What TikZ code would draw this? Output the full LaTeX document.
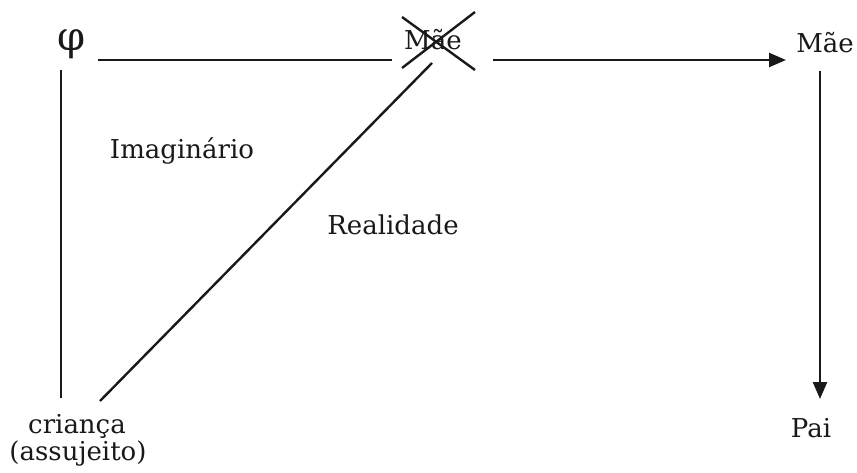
\documentclass[tikz,border=0pt]{standalone}
\usepackage{fontspec}
\setmainfont{DejaVu Serif}
\usetikzlibrary{arrows.meta}
\begin{document}
\begin{tikzpicture}[x=1pt,y=-1pt,
  lbl/.style={inner sep=0pt,font=\fontsize{26}{28}\selectfont,text=black!90},
  ln/.style={line width=2.4pt,black!90},
  arr/.style={ln,-{Triangle[length=17pt,width=14pt]}}]
\useasboundingbox (0,0) rectangle (857,473);
% texts
\node[inner sep=0pt,font=\fontsize{40}{42}\selectfont,text=black!90] (phi) at (72,44) {φ};
\node[lbl,anchor=base] (mae1) at (433,50) {Mãe};
\node[lbl,anchor=base] (mae2) at (825,53) {Mãe};
\node[lbl,anchor=base] (pai) at (811,437) {Pai};
\node[lbl,anchor=base] (crianca) at (77,433) {criança};
\node[lbl,anchor=base] (assuj) at (78,460) {(assujeito)};
\node[lbl,anchor=base] (imag) at (182,159) {Imaginário};
\node[lbl,anchor=base] (real) at (393,235) {Realidade};
% connector end points
\coordinate (phiR) at (98,60);
\coordinate (maeL) at (392,60);
\coordinate (maeR) at (493,60);
\coordinate (mae2L) at (786,60);
\coordinate (phiB) at (61,70);
\coordinate (criT) at (61,398);
\coordinate (criR) at (100,401);
\coordinate (maeB) at (432,63);
\coordinate (mae2B) at (820,71);
\coordinate (paiT) at (820,399);
\coordinate (x1a) at (402,17);
\coordinate (x1b) at (475,70);
\coordinate (x2a) at (475,12);
\coordinate (x2b) at (402,68);
% connectors
\draw[ln] (phiR) -- (maeL);
\draw[arr] (maeR) -- (mae2L);
\draw[ln] (phiB) -- (criT);
\draw[ln] (criR) -- (maeB);
\draw[arr] (mae2B) -- (paiT);
% cross over Mãe
\draw[ln] (x1a) -- (x1b);
\draw[ln] (x2a) -- (x2b);
\end{tikzpicture}
\end{document}
